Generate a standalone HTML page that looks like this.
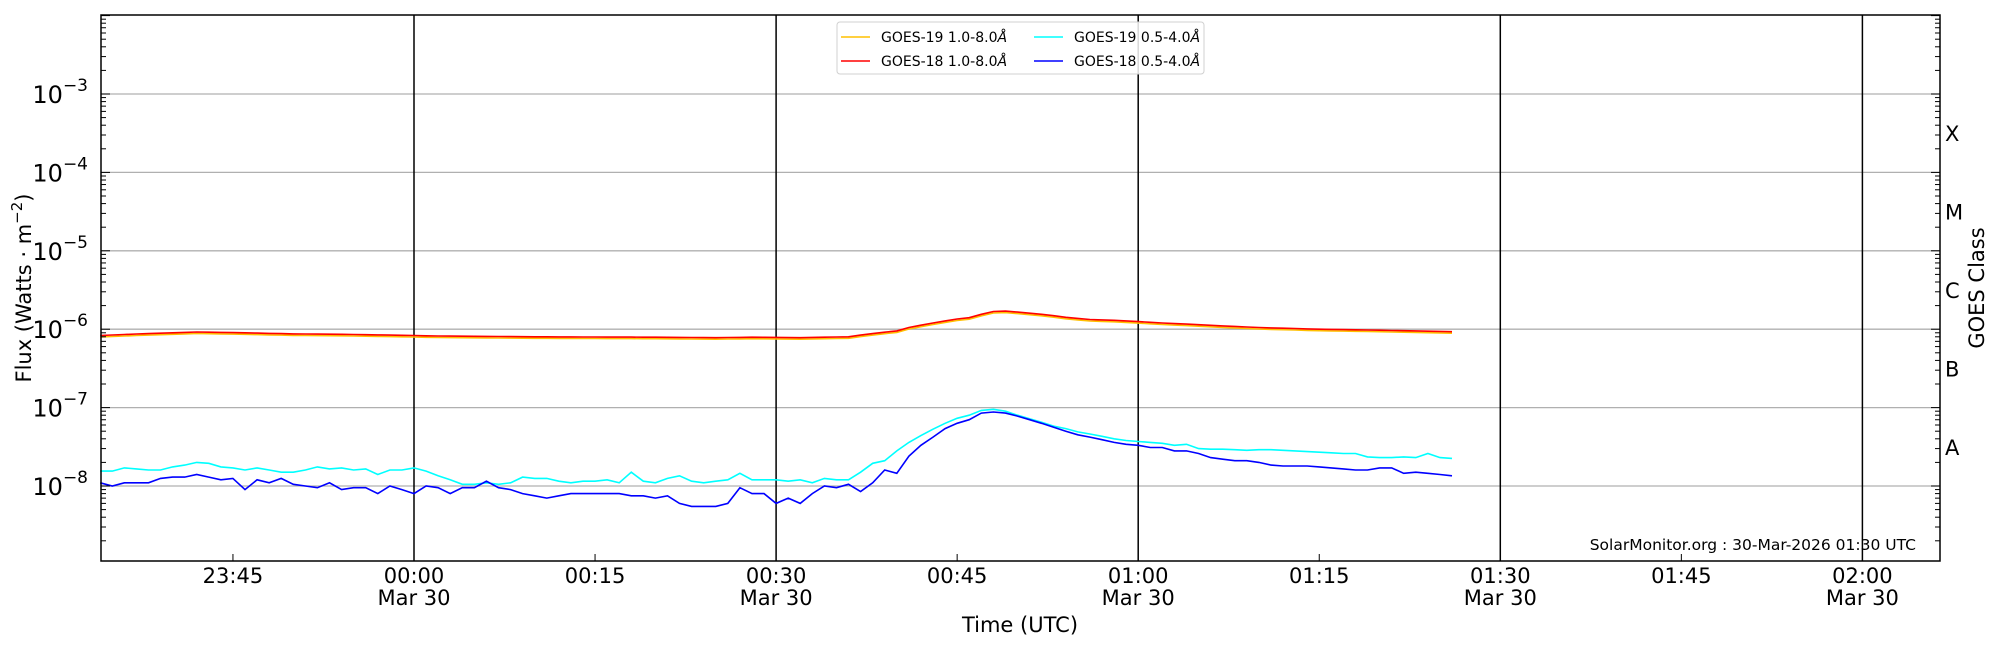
<!DOCTYPE html>
<html><head><meta charset="utf-8"><style>
html,body{margin:0;padding:0;background:#fff;width:2000px;height:650px;overflow:hidden}
text{font-family:"DejaVu Sans","Liberation Sans",sans-serif;fill:#000}
</style></head><body>
<svg id="s" width="2000" height="650" xmlns="http://www.w3.org/2000/svg"></svg>
<script>
const L=101,R=1940,T=15,B=561;
const X=m=>414+12.07*m;
const Y=v=>486-78.4*(Math.log10(v)+8);
let h='';
// grid
for(let d=-8;d<=-3;d++){const y=Y(Math.pow(10,d));h+=`<line x1="${L}" x2="${R}" y1="${y}" y2="${y}" stroke="#b0b0b0" stroke-width="1.3"/>`;}
[0,30,60,90,120].forEach(m=>{h+=`<line x1="${X(m)}" x2="${X(m)}" y1="${T}" y2="${B}" stroke="#000" stroke-width="1.5"/>`;});
// series
function interp(k){const ks=Object.keys(k).map(Number).sort((a,b)=>a-b);const out=[];for(let m=-26;m<=86;m++){let i=0;while(i<ks.length-2&&ks[i+1]<m)i++;const a=ks[i],b=ks[i+1];const t=Math.max(0,Math.min(1,(m-a)/(b-a)));out.push([m,k[a]+(k[b]-k[a])*t]);}return out;}
function path(arr,sc,col,dy){let p='';arr.forEach((q,i)=>{p+=(i?'L':'M')+X(q[0]).toFixed(1)+','+(Y(q[1]*sc)+dy).toFixed(1);});return `<path d="${p}" fill="none" stroke="${col}" stroke-width="1.6"/>`;}
const red=interp({"-26":0.83,"-22":0.88,"-18":0.92,"-14":0.9,"-10":0.87,"-6":0.86,"-2":0.84,"2":0.82,"10":0.8,"20":0.79,"25":0.78,"28":0.79,"32":0.78,"36":0.8,"38":0.88,"40":0.95,"41":1.05,"43":1.2,"45":1.35,"46":1.4,"47":1.55,"48":1.68,"49":1.7,"50":1.65,"52":1.55,"54":1.42,"56":1.33,"58":1.3,"60":1.25,"62":1.2,"66":1.12,"70":1.05,"75":1.0,"80":0.97,"86":0.93});
const bl=[1.1,1.0,1.1,1.1,1.1,1.25,1.3,1.3,1.4,1.3,1.2,1.25,0.9,1.2,1.1,1.25,1.05,1.0,0.95,1.1,0.9,0.95,0.95,0.8,1.0,0.9,0.8,1.0,0.95,0.8,0.95,0.95,1.15,0.95,0.9,0.8,0.75,0.7,0.75,0.8,0.8,0.8,0.8,0.8,0.75,0.75,0.7,0.75,0.6,0.55,0.55,0.55,0.6,0.95,0.8,0.8,0.6,0.7,0.6,0.8,1.0,0.95,1.05,0.85,1.1,1.6,1.45,2.4,3.3,4.2,5.4,6.3,7.0,8.5,8.8,8.5,7.8,7.0,6.3,5.6,5.0,4.5,4.2,3.9,3.6,3.4,3.3,3.1,3.1,2.8,2.8,2.6,2.3,2.2,2.1,2.1,2.0,1.85,1.8,1.8,1.8,1.75,1.7,1.65,1.6,1.6,1.7,1.7,1.45,1.5,1.45,1.4,1.35];
const cy=[1.55,1.55,1.7,1.65,1.6,1.6,1.75,1.85,2.0,1.95,1.75,1.7,1.6,1.7,1.6,1.5,1.5,1.6,1.75,1.65,1.7,1.6,1.65,1.4,1.6,1.6,1.7,1.55,1.35,1.2,1.05,1.05,1.1,1.05,1.1,1.3,1.25,1.25,1.15,1.1,1.15,1.15,1.2,1.1,1.5,1.15,1.1,1.25,1.35,1.15,1.1,1.15,1.2,1.45,1.2,1.2,1.2,1.15,1.2,1.1,1.25,1.2,1.2,1.5,1.95,2.1,2.8,3.6,4.4,5.3,6.3,7.3,8.0,9.2,9.5,9.0,8.0,7.2,6.5,5.8,5.4,4.9,4.6,4.3,4.0,3.8,3.7,3.6,3.5,3.3,3.4,3.0,2.95,2.95,2.9,2.85,2.9,2.9,2.85,2.8,2.75,2.7,2.65,2.6,2.6,2.35,2.3,2.3,2.35,2.3,2.6,2.3,2.25];
h+=path(red,1e-6,'#ffc000',1.5);
h+=path(red,1e-6,'#ff0000',0);
h+=path(cy.map((v,i)=>[i-26,v]),1e-8,'#00ffff',0);
h+=path(bl.map((v,i)=>[i-26,v]),1e-8,'#0000ff',0);
// frame
h+=`<rect x="${L}" y="${T}" width="${R-L}" height="${B-T}" fill="none" stroke="#000" stroke-width="1.5"/>`;
// y ticks
for(let d=-9;d<=-2;d++){for(let k=1;k<10;k++){const v=k*Math.pow(10,d);const y=Y(v);if(y<T-0.5||y>B+0.5)continue;const len=k==1?9:5;h+=`<line x1="${L}" x2="${L+len}" y1="${y}" y2="${y}" stroke="#000"/><line x1="${R-len}" x2="${R}" y1="${y}" y2="${y}" stroke="#000"/>`;}}
for(let d=-8;d<=-3;d++){const y=Y(Math.pow(10,d));h+=`<text x="88" y="${y+9}" font-size="24" text-anchor="end">10<tspan font-size="17" dy="-12">−${-d}</tspan></text>`;}
['A','B','C','M','X'].forEach((c,i)=>{const y=Y(Math.pow(10,-7.5+i));h+=`<text x="1945" y="${y+8}" font-size="21">${c}</text>`;});
h+=`<text transform="translate(31,288) rotate(-90)" font-size="21" text-anchor="middle">Flux (Watts · m<tspan font-size="15" dy="-9">−2</tspan><tspan dy="9">)</tspan></text>`;
h+=`<text transform="translate(1984,288) rotate(-90)" font-size="21" text-anchor="middle">GOES Class</text>`;
// x ticks
[-15,15,45,75,105].forEach(m=>{h+=`<line x1="${X(m)}" x2="${X(m)}" y1="${B-7}" y2="${B}" stroke="#000"/>`;});
const lab={"-15":"23:45","0":"00:00","15":"00:15","30":"00:30","45":"00:45","60":"01:00","75":"01:15","90":"01:30","105":"01:45","120":"02:00"};
for(const k in lab){const x=X(+k);h+=`<text x="${x}" y="583" font-size="21" text-anchor="middle">${lab[k]}</text>`;if(+k%30==0)h+=`<text x="${x}" y="605" font-size="21" text-anchor="middle">Mar 30</text>`;}
h+=`<text x="1020" y="632" font-size="21" text-anchor="middle">Time (UTC)</text>`;
h+=`<text x="1916" y="550" font-size="15.5" text-anchor="end">SolarMonitor.org : 30-Mar-2026 01:30 UTC</text>`;
// legend
h+=`<rect x="837" y="22" width="367" height="52" rx="3" fill="#fff" fill-opacity="0.85" stroke="#d0d0d0"/>`;
[['#ffc000','GOES-19 1.0-8.0',841,37],['#ff0000','GOES-18 1.0-8.0',841,61],['#00ffff','GOES-19 0.5-4.0',1034,37],['#0000ff','GOES-18 0.5-4.0',1034,61]].forEach(a=>{h+=`<line x1="${a[2]}" x2="${a[2]+29}" y1="${a[3]}" y2="${a[3]}" stroke="${a[0]}" stroke-width="1.5"/><text x="${a[2]+40}" y="${a[3]+5}" font-size="14">${a[1]}<tspan font-style="italic">Å</tspan></text>`;});
document.getElementById('s').innerHTML=h;
</script>
</body></html>
